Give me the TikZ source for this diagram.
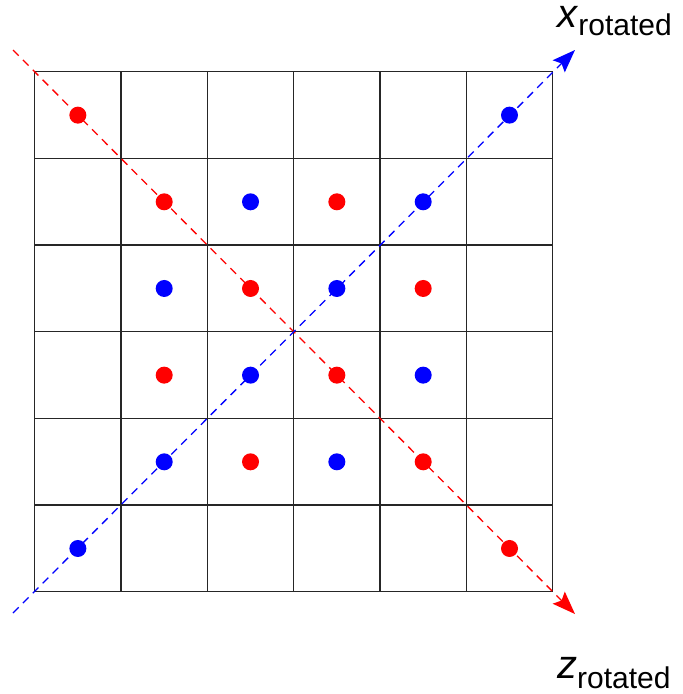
\documentclass[tikz,border=0pt]{standalone}
\usepackage{fontspec}
\setmainfont{Liberation Sans}
\usetikzlibrary{arrows.meta}
\definecolor{dotred}{RGB}{255,0,0}
\definecolor{dotblue}{RGB}{0,0,255}
\tikzset{
  gridline/.style={line width=1.3pt, black!85},
  reddot/.style={circle, fill=dotred, inner sep=0pt, minimum size=17pt},
  bluedot/.style={circle, fill=dotblue, inner sep=0pt, minimum size=17pt},
  axisline/.style={line width=1.3pt, dash pattern=on 8pt off 6pt, -{Stealth[length=23pt,width=17pt,inset=4pt]}},
  axlabel/.style={anchor=base west, inner sep=0pt}
}
\begin{document}
\begin{tikzpicture}[x=1pt,y=-1pt]
\useasboundingbox (0,0) rectangle (683,694);
\fill[white] (0,0) rectangle (683,694);
\foreach \gx in {34.7,121,207.3,293.7,380,466.4,552.7} {
  \draw[gridline] (\gx,71.8) -- (\gx,591.8);
}
\foreach \gy in {71.8,158.3,245,331.7,418.3,505,591.8} {
  \draw[gridline] (34.7,\gy) -- (552.7,\gy);
}
% dots: red
\foreach \c/\r [count=\k] in {0/0,1/1,3/1,2/2,4/2,1/3,3/3,2/4,4/4,5/5} {
  \node[reddot] (r\k) at ({34.7+86.33*(\c+0.5)},{71.8+86.67*(\r+0.5)}) {};
}
% dots: blue
\foreach \c/\r [count=\k] in {5/0,2/1,4/1,1/2,3/2,2/3,4/3,1/4,3/4,0/5} {
  \node[bluedot] (b\k) at ({34.7+86.33*(\c+0.5)},{71.8+86.67*(\r+0.5)}) {};
}
\coordinate (rs) at (13,50);
\coordinate (re) at (575,614);
\coordinate (bs) at (13,613);
\coordinate (be) at (575,50);
\draw[axisline, dotred] (rs) -- (re);
\draw[axisline, dotblue] (bs) -- (be);
\node[axlabel] (xl) at (557,27) {\fontsize{40}{44}\selectfont\textit{x}\raisebox{-8pt}{\fontsize{30}{32}\selectfont rotated}};
\node[axlabel] (zl) at (557,678) {\fontsize{40}{44}\selectfont\textit{z}\raisebox{-10pt}{\fontsize{30}{32}\selectfont rotated}};
\end{tikzpicture}
\end{document}
